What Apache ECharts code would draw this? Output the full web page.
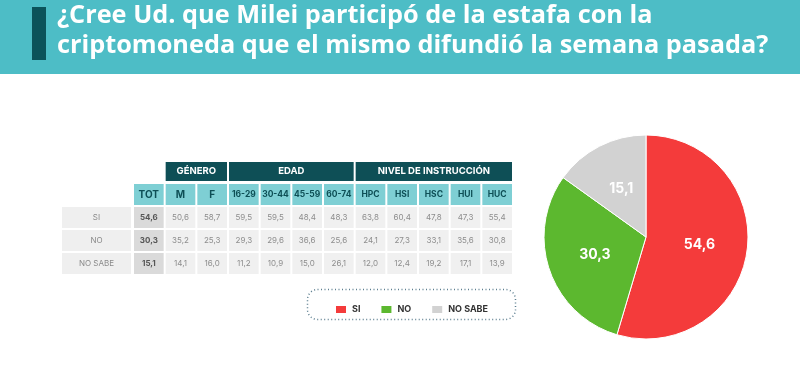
<!DOCTYPE html>
<html>
<head>
<meta charset="utf-8">
<script src="https://cdn.jsdelivr.net/npm/echarts@6/dist/echarts.min.js"></script>
<style>html,body{margin:0;padding:0;background:#fff;}#c{width:800px;height:382px;}</style>
</head>
<body>
<div id="c"></div>
<script>
// ---- data ----
const titleText = '¿Cree Ud. que Milei participó de la estafa con la\ncriptomoneda que el mismo difundió la semana pasada?';
const columns = ['TOT','M','F','16-29','30-44','45-59','60-74','HPC','HSI','HSC','HUI','HUC'];
const columnGroups = ['', 'GÉNERO','GÉNERO','EDAD','EDAD','EDAD','EDAD','NIVEL DE INSTRUCCIÓN','NIVEL DE INSTRUCCIÓN','NIVEL DE INSTRUCCIÓN','NIVEL DE INSTRUCCIÓN','NIVEL DE INSTRUCCIÓN'];
const rowLabels = ['SI','NO','NO SABE'];
const siValues     = [54.6,50.6,58.7,59.5,59.5,48.4,48.3,63.8,60.4,47.8,47.3,55.4];
const noValues     = [30.3,35.2,25.3,29.3,29.6,36.6,25.6,24.1,27.3,33.1,35.6,30.8];
const noSabeValues = [15.1,14.1,16.0,11.2,10.9,15.0,26.1,12.0,12.4,19.2,17.1,13.9];
const pieColors = ['#f43b3b','#5cb82f','#d2d2d2'];

// ---- build ----
const fmt = v => v.toFixed(1).replace('.', ',');
const yCats = ['group','head'].concat(rowLabels);
const allRows = [siValues, noValues, noSabeValues];

const groupData = [];
columnGroups.forEach((g, i) => {
  if (!g) return;
  const last = groupData[groupData.length - 1];
  if (last && last[3] === g) last[1] = i;
  else groupData.push([i, i, 0, g]);
});
const headData = columns.map((c, i) => [i, 1, c]);
const cellData = [];
allRows.forEach((arr, r) => arr.forEach((v, i) => cellData.push([i, r + 2, v])));

const FONT = 'Inter, Roboto, "Noto Sans", sans-serif';
const TFONT = '"Open Sans", Inter, sans-serif';

function cellRect(api, x0, x1, y) {
  const a = api.coord([x0, y]);
  const b = api.coord([x1, y]);
  const s = api.size([1, 1]);
  return { x: a[0] - s[0] / 2 + 1, y: a[1] - s[1] / 2 + 1, width: b[0] - a[0] + s[0] - 2, height: s[1] - 2 };
}

const chart = echarts.init(document.getElementById('c'), null, { renderer: 'canvas' });
chart.setOption({
  animation: false,
  title: {
    text: titleText,
    left: 57, top: 1, padding: 0,
    textStyle: { color: '#ffffff', fontSize: 25.3, fontWeight: 700, lineHeight: 30, fontFamily: TFONT }
  },
  graphic: [
    { type: 'rect', z: -10, shape: { x: 0, y: 0, width: 800, height: 74 }, style: { fill: '#4dbdc6' } },
    { type: 'rect', z: -5, shape: { x: 32, y: 7, width: 14, height: 53 }, style: { fill: '#0b535a' } },
    { type: 'rect', z: -5, shape: { x: 307.5, y: 289.5, width: 208, height: 30, r: 10 },
      style: { fill: 'none', stroke: '#5d7f90', lineWidth: 1.5, lineDash: [1, 2.5] } }
  ],
  legend: {
    data: rowLabels,
    left: 329, top: 299,
    itemWidth: 12, itemHeight: 9, itemGap: 19,
    icon: 'path://M0 0H12V9H0Z',
    selectedMode: false,
    textStyle: { fontSize: 9, fontWeight: 'bold', color: '#333', fontFamily: FONT }
  },
  grid: { left: 133, top: 160, width: 380, height: 115 },
  xAxis: { type: 'category', data: columns, show: false },
  yAxis: {
    type: 'category', data: yCats, inverse: true,
    axisLine: { show: false }, axisTick: { show: false }, splitLine: { show: false },
    axisLabel: {
      margin: 2,
      formatter: v => (rowLabels.indexOf(v) >= 0 ? '{a|' + v + '}' : ''),
      rich: { a: { width: 69, height: 21, lineHeight: 21, align: 'center', backgroundColor: '#efefef', color: '#8a8a8a', fontSize: 8, fontFamily: FONT } }
    }
  },
  series: [
    {
      type: 'custom', coordinateSystem: 'cartesian2d', data: groupData, encode: { x: [0, 1], y: 2 },
      renderItem: (params, api) => {
        const r = cellRect(api, api.value(0), api.value(1), api.value(2));
        r.y += 1; r.height -= 2;
        return { type: 'group', children: [
          { type: 'rect', shape: r, style: { fill: '#0e4f56' } },
          { type: 'text', style: { text: groupData[params.dataIndex][3], x: r.x + r.width / 2, y: r.y + r.height / 2, align: 'center', verticalAlign: 'middle', fill: '#ffffff', font: 'bold 9.5px ' + FONT } }
        ] };
      }
    },
    {
      type: 'custom', coordinateSystem: 'cartesian2d', data: headData, encode: { x: 0, y: 1 },
      renderItem: (params, api) => {
        const r = cellRect(api, api.value(0), api.value(0), api.value(1));
        return { type: 'group', children: [
          { type: 'rect', shape: r, style: { fill: '#7ecfd4' } },
          { type: 'text', style: { text: columns[params.dataIndex], x: r.x + r.width / 2, y: r.y + r.height / 2, align: 'center', verticalAlign: 'middle', fill: '#0e4f56', font: 'bold ' + (params.dataIndex < 3 ? 10 : 8.5) + 'px ' + FONT } }
        ] };
      }
    },
    {
      type: 'custom', coordinateSystem: 'cartesian2d', data: cellData, encode: { x: 0, y: 1 },
      renderItem: (params, api) => {
        const col = api.value(0);
        const r = cellRect(api, col, col, api.value(1));
        const tot = col === 0;
        return { type: 'group', children: [
          { type: 'rect', shape: r, style: { fill: tot ? '#dadada' : '#f0f0f0' } },
          { type: 'text', style: { text: fmt(api.value(2)), x: r.x + r.width / 2, y: r.y + r.height / 2, align: 'center', verticalAlign: 'middle', fill: tot ? '#555' : '#8d8d8d', font: (tot ? 'bold ' : '') + '8px ' + FONT } }
        ] };
      }
    },
    {
      type: 'pie',
      center: [646, 237], radius: 102,
      startAngle: 90, clockwise: true,
      silent: true,
      itemStyle: { borderColor: '#ffffff', borderWidth: 1 },
      label: { position: 'inside', color: '#ffffff', fontSize: 14, fontWeight: 'bold', fontFamily: FONT, formatter: p => fmt(p.value) },
      labelLine: { show: false },
      data: rowLabels.map((n, i) => ({ name: n, value: allRows[i][0], itemStyle: { color: pieColors[i] } }))
    }
  ]
});
</script>
</body>
</html>
